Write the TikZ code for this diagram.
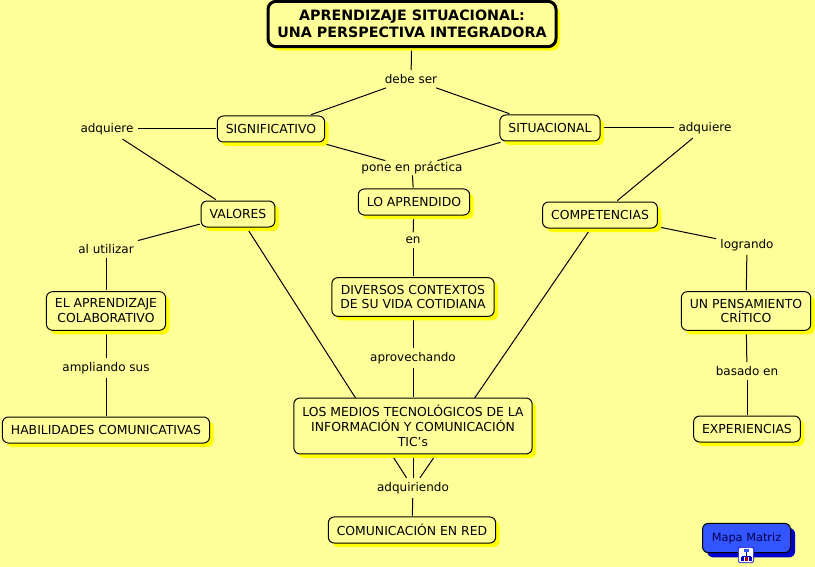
\documentclass[tikz,border=0pt]{standalone}
\usepackage{fontspec}
\setmainfont{DejaVu Sans}
\usetikzlibrary{shadows, backgrounds}
\definecolor{mapBack}{RGB}{255, 255, 153}
\definecolor{mapShadow}{RGB}{255, 255, 0}
\definecolor{mapBlue}{RGB}{51, 85, 255}
\definecolor{mapDeep}{RGB}{0, 0, 204}
\begin{document}
\begin{tikzpicture}[
        x=0.75pt, y=-0.75pt,
        concept/.style={rectangle, draw=black, line width=0.75pt, fill=mapBack, minimum height=19.5pt, inner xsep=6.4pt, inner ysep=5.4pt, align=center, font=\fontsize{9.3}{11.2}\selectfont, rounded corners=4.5pt, outer sep=1pt, drop shadow={shadow xshift=3pt, shadow yshift=-3pt, fill=mapShadow, opacity=1}},
        linking/.style={font=\fontsize{9}{11.2}\selectfont, inner sep=1pt, outer sep=2.2pt},
        link/.style={draw=black, line width=0.75pt}
    ]
        \useasboundingbox (0,0) rectangle (815,567);

        % Main concepts
        \node[concept, line width=2.25pt, rounded corners=6pt, font=\fontsize{10.7}{12.8}\selectfont\bfseries, minimum width=216pt, minimum height=34pt] (title) at (412,24) {APRENDIZAJE SITUACIONAL:\\UNA PERSPECTIVA INTEGRADORA};
        \node[concept] (signif) at (271,129) {SIGNIFICATIVO};
        \node[concept] (situac) at (550,128) {SITUACIONAL};
        \node[concept] (valores) at (238,214) {VALORES};
        \node[concept] (aprendido) at (414,202) {LO APRENDIDO};
        \node[concept] (compet) at (600,215) {COMPETENCIAS};
        \node[concept] (colab) at (106,311) {EL APRENDIZAJE\\COLABORATIVO};
        \node[concept] (contextos) at (413,297) {DIVERSOS CONTEXTOS\\DE SU VIDA COTIDIANA};
        \node[concept] (critico) at (746,311) {UN PENSAMIENTO\\CRÍTICO};
        \node[concept] (habil) at (106,430) {HABILIDADES COMUNICATIVAS};
        \node[concept] (medios) at (413,426) {LOS MEDIOS TECNOLÓGICOS DE LA\\INFORMACIÓN Y COMUNICACIÓN\\TIC's};
        \node[concept] (exper) at (747,429) {EXPERIENCIAS};
        \node[concept] (red) at (412,530) {COMUNICACIÓN EN RED};

        % Linking phrases
        \node[linking] (debeser) at (411,79) {debe ser};
        \node[linking] (adqizq) at (107,129) {adquiere};
        \node[linking] (adqder) at (705,128) {adquiere};
        \node[linking, outer ysep=0pt] (pone) at (412,168) {pone en práctica};
        \node[linking] (utilizar) at (106,249) {al utilizar};
        \node[linking] (en) at (413,240) {en};
        \node[linking] (logrando) at (747,245) {logrando};
        \node[linking] (ampliando) at (106,368) {ampliando sus};
        \node[linking] (aprovech) at (413,358) {aprovechando};
        \node[linking] (basado) at (747,371) {basado en};
        \node[linking] (adquir) at (413,488) {adquiriendo};

        % Connectors
        \begin{scope}[on background layer]
            \fill[mapBack] (0,0) rectangle (815,567);
            \draw[link] (title) -- (debeser);
            \draw[link] (debeser) -- (signif);
            \draw[link] (debeser) -- (situac);
            \draw[link] (signif) -- (adqizq);
            \draw[link] (adqizq) -- (valores);
            \draw[link] (signif) -- (pone);
            \draw[link] (situac) -- (pone);
            \draw[link] (pone) -- (aprendido);
            \draw[link] (situac) -- (adqder);
            \draw[link] (adqder) -- (compet);
            \draw[link] (valores) -- (utilizar);
            \draw[link] (utilizar) -- (colab);
            \draw[link] (colab) -- (ampliando);
            \draw[link] (ampliando) -- (habil);
            \draw[link] (aprendido) -- (en);
            \draw[link] (en) -- (contextos);
            \draw[link] (contextos) -- (aprovech);
            \draw[link] (aprovech) -- (medios);
            \draw[link] (valores) -- (adquir);
            \draw[link] (compet) -- (adquir);
            \draw[link] (medios) -- (adquir);
            \draw[link] (adquir) -- (red);
            \draw[link] (compet) -- (logrando);
            \draw[link] (logrando) -- (critico);
            \draw[link] (critico) -- (basado);
            \draw[link] (basado) -- (exper);
        \end{scope}

        % Map button
        \node[concept, fill=mapBlue, text=black!70!blue, font=\fontsize{8.5}{11}\selectfont, minimum width=66pt, minimum height=22pt, inner xsep=0pt, inner ysep=2pt, drop shadow={shadow xshift=3.5pt, shadow yshift=-3.5pt, fill=mapDeep, opacity=1}] (matriz) at (746.5,538) {Mapa Matriz};
        \node[rectangle, draw=mapDeep, fill=white, rounded corners=1.5pt, minimum size=11.5pt, inner sep=0pt, line width=0.5pt] (icono) at (746,555) {};
        \fill[mapBlue] (743.5,549) rectangle (748.5,552);
        \draw[mapDeep, line width=0.4pt] (746,552) -- (746,556) (742,556) -- (750,556) (742,556) -- (742,557) (750,556) -- (750,557);
        \fill[mapDeep] (740.5,557) rectangle (743.5,561);
        \fill[red!70!black] (744.5,557) rectangle (747.5,561);
        \fill[mapDeep] (748.5,557) rectangle (751.5,561);
    \end{tikzpicture}
\end{document}
